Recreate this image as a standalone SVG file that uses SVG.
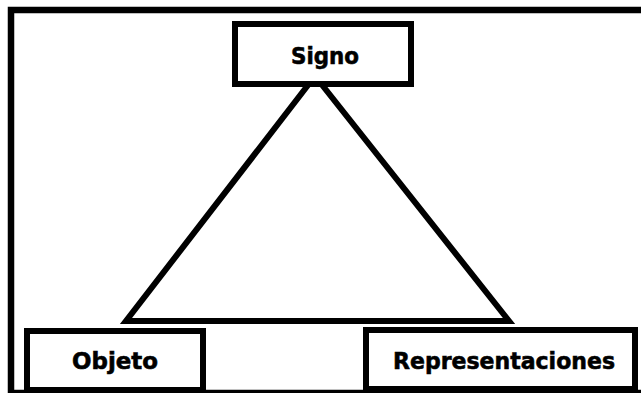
<svg xmlns="http://www.w3.org/2000/svg" width="641" height="393" viewBox="0 0 641 393">
<style>
.box{fill:#fff;stroke:#000;stroke-width:6}
.lbl{font-family:"DejaVu Sans",sans-serif;font-weight:bold;font-size:23px;fill:#000;stroke:#000;stroke-width:0.6;text-anchor:middle}
.edge{fill:none;stroke:#000;stroke-width:6;stroke-linejoin:miter}
</style>
<rect x="0" y="0" width="641" height="393" fill="#fff"/>
<rect id="frame" x="11" y="10" width="700" height="383" fill="none" stroke="#000" stroke-width="6.5"/>
<g id="connectors">
<polygon class="edge" points="315,76 509,321 126,321"/>
</g>
<g id="signo">
<rect class="box" x="235" y="24" width="176" height="60"/>
<text class="lbl" x="325" y="64" textLength="68" lengthAdjust="spacingAndGlyphs">Signo</text>
</g>
<g id="objeto">
<rect class="box" x="27" y="331" width="176" height="59"/>
<text class="lbl" x="115" y="368.5" textLength="86" lengthAdjust="spacingAndGlyphs">Objeto</text>
</g>
<g id="representaciones">
<rect class="box" x="366" y="330" width="269" height="59"/>
<text class="lbl" x="504" y="368.5" textLength="222" lengthAdjust="spacingAndGlyphs">Representaciones</text>
</g>
</svg>
